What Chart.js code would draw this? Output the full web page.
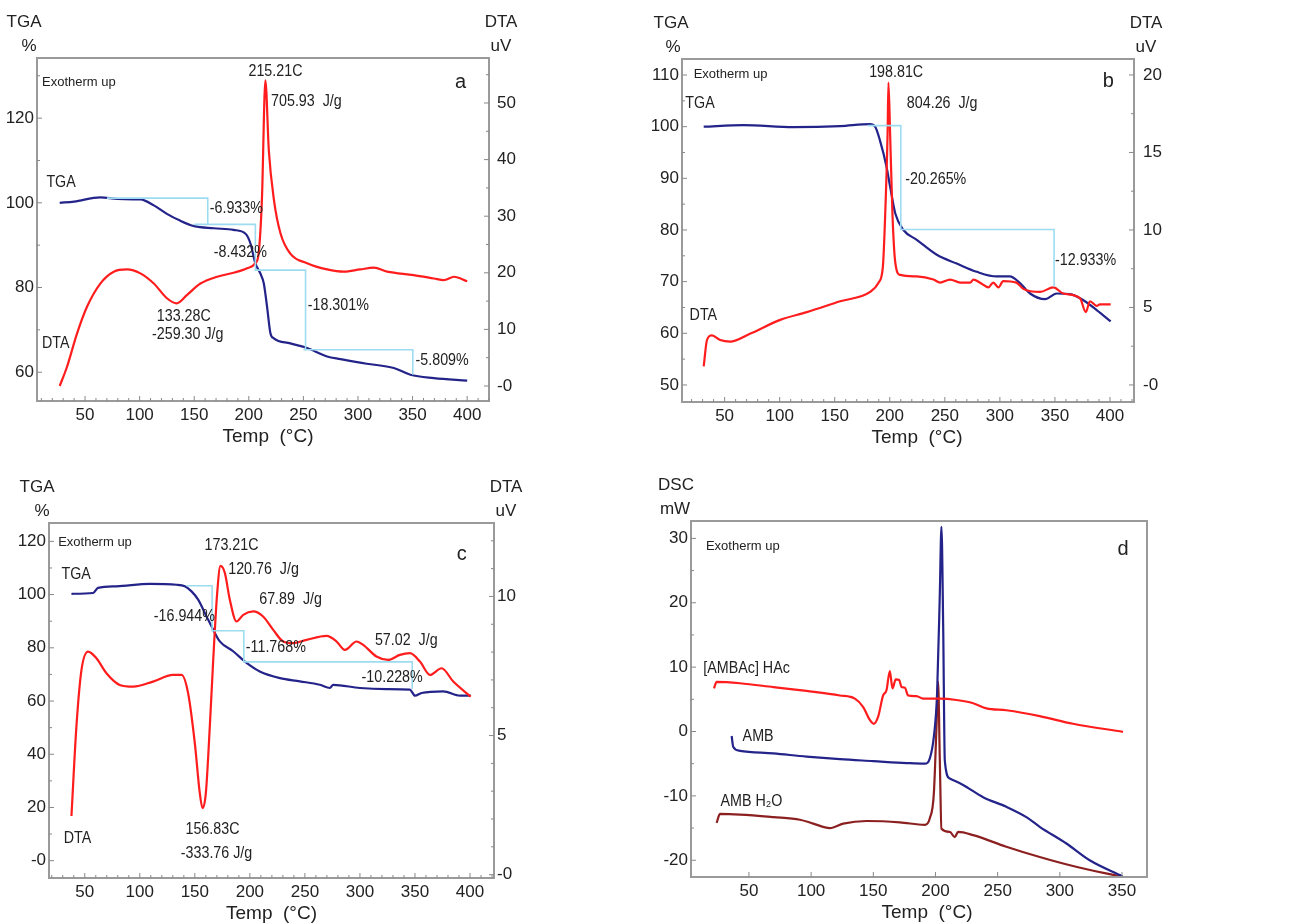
<!DOCTYPE html>
<html>
<head>
<meta charset="utf-8">
<script src="https://cdn.jsdelivr.net/npm/chart.js@4.4.0/dist/chart.umd.min.js"></script>
<style>
  body { margin: 0; background: #fff; width: 1291px; height: 923px; position: relative; overflow: hidden; }
  canvas { position: absolute; }
</style>
</head>
<body>
<canvas id="panelA" width="560" height="450" style="left:0;top:0"></canvas>
<canvas id="panelB" width="671" height="450" style="left:620px;top:0"></canvas>
<canvas id="panelC" width="560" height="463" style="left:0;top:460px"></canvas>
<canvas id="panelD" width="671" height="463" style="left:620px;top:460px"></canvas>
<script>
// ---- panel a : TGA / DTA ----
const aTgaT = [26.8, 40, 64, 80, 100.7, 113, 125, 137, 150, 168, 186, 197, 201.5, 206, 210.6, 213.7, 216.7, 219.8, 222.9, 238, 253.4, 271.7, 284, 308, 332.8, 348, 369.5, 400];
const aTgaV = [100.0, 100.3, 101.3, 100.9, 100.8, 99.4, 97.4, 95.8, 94.5, 94.0, 93.6, 92.7, 90.4, 85.7, 83.3, 81.0, 75.5, 69.2, 68.0, 66.8, 65.7, 63.7, 63.1, 62.0, 61.0, 59.4, 58.6, 58.0];
const aDtaT = [26.8, 33.5, 42.7, 51.8, 64, 76.3, 88.5, 100.7, 113, 125, 134, 143.5, 155.7, 171, 186, 198.4, 206, 209, 212, 215.2, 218.3, 223, 229, 238, 253.4, 271.7, 287, 302, 314.5, 326.7, 351, 369.5, 378.6, 388, 400];
const aDtaV = [0, 3.4, 9.3, 14.0, 18.1, 20.2, 20.6, 19.9, 18.1, 15.5, 14.6, 16.1, 18.1, 19.3, 20.0, 20.8, 21.7, 23.4, 32.9, 54.0, 41.7, 32.9, 27.0, 23.4, 21.7, 20.6, 20.2, 20.6, 20.9, 20.2, 19.6, 19.0, 18.7, 19.3, 18.5];
const aStepT = [70, 162.4, 162.4, 150, 206, 206, 209, 252, 252, 250, 350.2, 350.2];
const aStepV = [101.1, 101.1, 94.9, 94.9, 94.9, 84.1, 84.1, 84.1, 65.3, 65.3, 65.3, 59.4];

// ---- panel b ----
const bTgaT = [31, 67, 112.6, 155, 182, 186.7, 191, 197, 200.3, 205, 212.4, 224.5, 242.7, 260.8, 279, 297, 309, 318.3, 327.4, 341, 351.6, 363.7, 375.8, 387.9, 400.6];
const bTgaV = [100, 100.3, 99.9, 100.1, 100.5, 100, 97.4, 92.3, 88.4, 83.2, 80, 78.1, 75.2, 73.5, 71.9, 71.0, 71.0, 69.7, 67.7, 66.6, 67.7, 67.6, 66.4, 64.5, 62.3];
const bDtaT = [31, 34, 38.5, 46, 55, 73, 100.5, 124.7, 155, 182.2, 189.8, 193.7, 195.8, 198, 198.8, 200.3, 202.5, 205, 209.4, 224.5, 239.7, 245.7, 254.8, 263.9, 273, 276, 282, 289.6, 294, 298.7, 303, 315, 321.3, 336.5, 348.6, 357.6, 372.7, 378, 381.8, 387.9, 390.9, 400.6];
const bDtaV = [1.2, 2.9, 3.2, 2.9, 2.8, 3.3, 4.2, 4.7, 5.4, 6.0, 6.6, 7.6, 10.9, 16.2, 19.5, 16.2, 10.9, 7.9, 7.1, 7.0, 6.8, 6.6, 6.8, 6.6, 6.6, 6.8, 6.6, 6.3, 6.6, 6.3, 6.7, 6.6, 6.2, 6.0, 6.3, 5.9, 5.6, 4.7, 5.4, 5.1, 5.2, 5.2];
const bStepT = [180, 210, 210, 349.2, 349.2];
const bStepV = [100.2, 100.2, 80.1, 80.1, 69.0];

// ---- panel c ----
const cTgaT = [37.9, 57.6, 62, 78.8, 109, 133.3, 140.9, 147, 153, 160.6, 166.7, 172.7, 184.8, 197, 209, 227.3, 245.4, 263.6, 272.7, 275.7, 300, 324, 345.4, 350, 356, 375.7, 390.9, 400.6];
const cTgaV = [100.3, 100.6, 102.5, 103.1, 104, 103.7, 103.1, 101.2, 98.1, 91.8, 86.8, 82.4, 78.7, 74.3, 71.1, 68.6, 67.4, 66.1, 64.9, 66.1, 64.9, 64.5, 64.3, 62, 63, 63.6, 62, 62];
const cDtaT = [37.9, 42.4, 47, 53, 60.6, 69.7, 81.8, 94, 112, 130, 137.9, 143.9, 150, 154.5, 157, 160, 163.6, 166.7, 170.3, 173.3, 177.3, 181.8, 187.9, 194, 203, 212, 221.2, 230.3, 239.4, 251.5, 269.7, 278.8, 286.3, 296.9, 303, 315, 325.7, 336.3, 345.4, 354.5, 363.6, 374.2, 384.8, 400.6];
const cDtaV = [2.11, 5.32, 7.36, 8.02, 7.78, 7.24, 6.82, 6.76, 6.94, 7.18, 7.18, 6.52, 4.72, 2.93, 2.39, 2.93, 5.32, 7.72, 10.12, 11.1, 10.84, 9.88, 9.1, 9.34, 9.46, 9.28, 8.8, 8.38, 8.32, 8.44, 8.58, 8.38, 8.08, 8.38, 8.26, 7.84, 7.72, 7.9, 7.96, 7.66, 7.18, 7.42, 6.94, 6.4];
const cStepT = [142.4, 165.7, 165.7, 194.5, 194.5, 347.5, 347.5];
const cStepV = [103.3, 103.3, 86.4, 86.4, 74.7, 74.7, 64.5];

// ---- panel d : DSC ----
const dHacT = [21.9, 24, 42.8, 69.6, 96.3, 123.1, 135.2, 141.9, 147.2, 150.4, 153.9, 157.9, 160.6, 163.3, 165.4, 168.1, 170.8, 172.7, 175.4, 178, 184.7, 190.1, 203.5, 216.9, 230.3, 241, 257, 283.8, 310.6, 350.8];
const dHacV = [6.7, 7.7, 7.5, 6.9, 6.3, 5.6, 5.1, 3.8, 1.8, 1.2, 2.3, 5.6, 6.4, 9.4, 6.7, 8.1, 8.0, 6.9, 6.8, 5.6, 5.5, 5.1, 5.1, 4.9, 4.4, 3.6, 3.3, 2.4, 1.2, -0.05];
const dAmbT = [36.1, 37.4, 42.8, 69.6, 96.3, 123.1, 149.9, 176.7, 191.4, 195.4, 198.7, 201.3, 203.5, 204.8, 206.2, 207.5, 211.5, 222.2, 238.3, 257, 273.1, 283.8, 305.3, 324, 350.3];
const dAmbV = [-0.7, -2.4, -3.0, -3.4, -3.9, -4.3, -4.6, -4.9, -5.0, -4.2, -0.8, 5.9, 21.5, 31.8, 16.3, -4.5, -7.3, -8.3, -10.2, -11.7, -13.3, -14.8, -17.4, -20, -22.5];
const dH2oT = [24, 26.7, 42.8, 69.6, 91, 101.7, 115.1, 125.8, 144.6, 171.3, 191.4, 195.4, 198.7, 200.8, 202.1, 203.5, 204.8, 211.5, 215.5, 218.2, 230.3, 257, 283.8, 310.6, 350.3];
const dH2oV = [-14.2, -12.8, -12.9, -13.3, -13.7, -14.3, -15.0, -14.3, -13.9, -14.1, -14.5, -13.5, -9.6, 0.7, 7.7, -4.5, -15.1, -15.6, -16.4, -15.6, -16.1, -17.9, -19.5, -20.9, -22.6];

// tick labels
const xTicks400 = [50, 100, 150, 200, 250, 300, 350, 400];
const xTicks350 = [50, 100, 150, 200, 250, 300, 350];
const aTgaTicks = [60, 80, 100, 120];
const aDtaTicks = [0, 10, 20, 30, 40, 50];
const bTgaTicks = [50, 60, 70, 80, 90, 100, 110];
const bDtaTicks = [0, 5, 10, 15, 20];
const cTgaTicks = [0, 20, 40, 60, 80, 100, 120];
const cDtaTicks = [0, 5, 10];
const dDscTicks = [-20, -10, 0, 10, 20, 30];

// text notes: [text, temp, left-axis value, align, size]
const aNotes = [
  ['Exotherm up', 10.6, 128.5, 'left', 13], ['a', 393.9, 128.4, 'center', 20],
  ['215.21C', 224.4, 131, 'center', 17], ['705.93  J/g', 220.4, 123.9, 'left', 17],
  ['TGA', 14.6, 104.9, 'left', 17], ['-6.933%', 164.2, 98.6, 'left', 17],
  ['-8.432%', 167.9, 88.4, 'left', 17], ['-18.301%', 254, 75.9, 'left', 17],
  ['133.28C', 140.4, 73.3, 'center', 17], ['-259.30 J/g', 144.1, 69.0, 'center', 17],
  ['DTA', 10.6, 66.8, 'left', 17], ['-5.809%', 352.7, 62.9, 'left', 17]
];
const bNotes = [
  ['Exotherm up', 21.9, 110.2, 'left', 13], ['198.81C', 205.8, 110.5, 'center', 17],
  ['b', 398.5, 108.7, 'center', 20], ['TGA', 14.3, 104.6, 'left', 17],
  ['804.26  J/g', 215.5, 104.5, 'left', 17], ['-20.265%', 214, 89.9, 'left', 17],
  ['-12.933%', 350.1, 74.2, 'left', 17], ['DTA', 18.2, 63.4, 'left', 17]
];
const cNotes = [
  ['Exotherm up', 25.8, 119.6, 'left', 13], ['173.21C', 183.3, 118.4, 'center', 17],
  ['c', 392.4, 115, 'center', 20], ['TGA', 28.8, 107.5, 'left', 17],
  ['120.76  J/g', 180.3, 109.4, 'left', 17], ['67.89  J/g', 208.5, 98.1, 'left', 17],
  ['-16.944%', 112.7, 91.8, 'left', 17], ['-11.768%', 196.3, 80.2, 'left', 17],
  ['57.02  J/g', 313.6, 83.0, 'left', 17], ['-10.228%', 301.5, 69.0, 'left', 17],
  ['156.83C', 166, 11.9, 'center', 17], ['-333.76 J/g', 169.7, 2.9, 'center', 17],
  ['DTA', 30.9, 8.5, 'left', 17]
];
const dNotes = [
  ['Exotherm up', 15.4, 28.8, 'left', 13], ['d', 350.8, 28.2, 'center', 20],
  ['[AMBAc] HAc', 13.3, 9.8, 'left', 17], ['AMB', 44.9, -0.7, 'left', 17],
  ['AMB H\u2082O', 27.2, -10.8, 'left', 17]
];

const RED = '#ff1c1c', BLUE = '#23238a', DARKRED = '#8c2020', CYAN = '#9ddcf0';
const FONT = "'Liberation Sans', Arial, sans-serif";

function pts(xs, ys) {
  return xs.map((x, i) => ({ x: x, y: ys[i] }));
}

function curve(xs, ys, color, axis) {
  return {
    data: pts(xs, ys), borderColor: color, borderWidth: 2.2,
    pointRadius: 0, cubicInterpolationMode: 'monotone', yAxisID: axis
  };
}

function steps(xs, ys, axis) {
  return { data: pts(xs, ys), borderColor: CYAN, borderWidth: 1.6, pointRadius: 0, tension: 0, yAxisID: axis };
}

// draws the frame, inward tick marks and all text notes
function decor(cfg) {
  return {
    id: 'decor',
    afterDraw(chart) {
      const { ctx, chartArea: a, scales } = chart;
      ctx.save();
      ctx.strokeStyle = '#9a9a9a';
      ctx.lineWidth = 2;
      ctx.strokeRect(a.left, a.top, a.right - a.left, a.bottom - a.top);

      ctx.strokeStyle = '#888';
      ctx.lineWidth = 1;
      function marks(scale, ticks, minor, side) {
        let v = ticks[0] - Math.floor((ticks[0] - scale.min) / minor) * minor;
        for (; v <= scale.max; v += minor) {
          const major = ticks.some(t => Math.abs(t - v) < 1e-6);
          const len = major ? 5 : 3;
          const p = scale.getPixelForValue(v);
          ctx.beginPath();
          if (side === 'bottom') { ctx.moveTo(p, a.bottom); ctx.lineTo(p, a.bottom - len); }
          if (side === 'left') { ctx.moveTo(a.left, p); ctx.lineTo(a.left + len, p); }
          if (side === 'right') { ctx.moveTo(a.right, p); ctx.lineTo(a.right - len, p); }
          ctx.stroke();
        }
      }
      marks(scales.x, cfg.xTicks, cfg.xMinor, 'bottom');
      marks(scales.y, cfg.yTicks, (cfg.yTicks[1] - cfg.yTicks[0]) / 2, 'left');
      if (scales.y2) marks(scales.y2, cfg.y2Ticks, cfg.y2Minor, 'right');

      ctx.fillStyle = '#222';
      ctx.textBaseline = 'middle';
      cfg.notes.forEach(n => {
        ctx.save();
        ctx.font = n[4] + 'px ' + FONT;
        ctx.textAlign = n[3];
        ctx.translate(scales.x.getPixelForValue(n[1]), scales.y.getPixelForValue(n[2]));
        if (n[4] === 17) ctx.scale(0.84, 1); // the source labels are set narrow
        ctx.fillText(n[0], 0, 0);
        ctx.restore();
      });

      // axis titles
      ctx.font = '17px ' + FONT;
      ctx.textAlign = 'center';
      ctx.fillText(cfg.leftTitle[0], a.left - cfg.leftTitle[2], a.top - 36);
      ctx.fillText(cfg.leftTitle[1], a.left - cfg.leftTitle[3], a.top - 12);
      if (cfg.rightTitle) {
        ctx.fillText(cfg.rightTitle[0], a.right + 12, a.top - 36);
        ctx.fillText(cfg.rightTitle[1], a.right + 12, a.top - 12);
      }
      ctx.font = '19px ' + FONT;
      ctx.fillText('Temp  (\u00B0C)', (a.left + a.right) / 2 + cfg.titleDx, a.bottom + 36);
      ctx.restore();
    }
  };
}

function axis(pos, min, max, ticks, size, pad, zeroLabel) {
  return {
    type: 'linear', position: pos, min: min, max: max,
    afterBuildTicks: s => { s.ticks = ticks.map(v => ({ value: v })); },
    afterFit: s => { if (pos === 'bottom') s.height = size; else s.width = size; },
    grid: { display: false, drawTicks: false },
    border: { display: false },
    ticks: {
      padding: pad, color: '#222', font: { family: FONT, size: 17 },
      callback: v => (v === 0 ? zeroLabel : String(v))
    }
  };
}

function makePanel(id, box, datasets, sc, cfg) {
  const canvas = document.getElementById(id);
  const scales = {
    x: axis('bottom', sc.x[0], sc.x[1], cfg.xTicks, canvas.height - box.bottom, 4, '0'),
    y: axis('left', sc.y[0], sc.y[1], cfg.yTicks, box.left, 3, sc.yZero)
  };
  let padRight = 0;
  if (sc.y2) scales.y2 = axis('right', sc.y2[0], sc.y2[1], cfg.y2Ticks, canvas.width - box.right, sc.y2Pad, '-0');
  else padRight = canvas.width - box.right;
  return new Chart(canvas, {
    type: 'line',
    data: { datasets: datasets },
    options: {
      responsive: false, animation: false, events: [],
      layout: { padding: { top: box.top, left: 0, right: padRight, bottom: 0 } },
      plugins: { legend: { display: false }, tooltip: { enabled: false } },
      scales: scales
    },
    plugins: [decor(cfg)]
  });
}

makePanel('panelA', { left: 37, top: 58, right: 489, bottom: 401 }, [
  steps(aStepT, aStepV, 'y'),
  curve(aDtaT, aDtaV, RED, 'y2'),
  curve(aTgaT, aTgaV, BLUE, 'y')
], { x: [6, 420], y: [53.2, 134.2], y2: [-2.65, 57.95], y2Pad: 8, yZero: '-0' },
{ xTicks: xTicks400, xMinor: 10, yTicks: aTgaTicks, y2Ticks: aDtaTicks, y2Minor: 5, notes: aNotes,
  leftTitle: ['TGA', '%', 13, 8], rightTitle: ['DTA', 'uV'], titleDx: 5 });

makePanel('panelB', { left: 62, top: 59, right: 514, bottom: 402 }, [
  steps(bStepT, bStepV, 'y'),
  curve(bDtaT, bDtaV, RED, 'y2'),
  curve(bTgaT, bTgaV, BLUE, 'y')
], { x: [11.3, 421.8], y: [46.7, 113.1], y2: [-1.1, 21.03], y2Pad: 9, yZero: '-0' },
{ xTicks: xTicks400, xMinor: 10, yTicks: bTgaTicks, y2Ticks: bDtaTicks, y2Minor: 2.5, notes: bNotes,
  leftTitle: ['TGA', '%', 11, 9], rightTitle: ['DTA', 'uV'], titleDx: 9 });

makePanel('panelC', { left: 49, top: 63, right: 494, bottom: 418 }, [
  steps(cStepT, cStepV, 'y'),
  curve(cDtaT, cDtaV, RED, 'y2'),
  curve(cTgaT, cTgaV, BLUE, 'y')
], { x: [17.5, 421.8], y: [-6.5, 126.9], y2: [-0.12, 12.64], y2Pad: 3, yZero: '-0' },
{ xTicks: xTicks400, xMinor: 10, yTicks: cTgaTicks, y2Ticks: cDtaTicks, y2Minor: 1, notes: cNotes,
  leftTitle: ['TGA', '%', 12, 7], rightTitle: ['DTA', 'uV'], titleDx: 0 });

makePanel('panelD', { left: 71, top: 61, right: 527, bottom: 417 }, [
  curve(dHacT, dHacV, RED, 'y'),
  curve(dAmbT, dAmbV, BLUE, 'y'),
  curve(dH2oT, dH2oV, DARKRED, 'y')
], { x: [3.4, 370.1], y: [-22.6, 32.7], yZero: '0' },
{ xTicks: xTicks350, xMinor: 50, yTicks: dDscTicks, notes: dNotes,
  leftTitle: ['DSC', 'mW', 15, 16], titleDx: 8 });
</script>
</body>
</html>
